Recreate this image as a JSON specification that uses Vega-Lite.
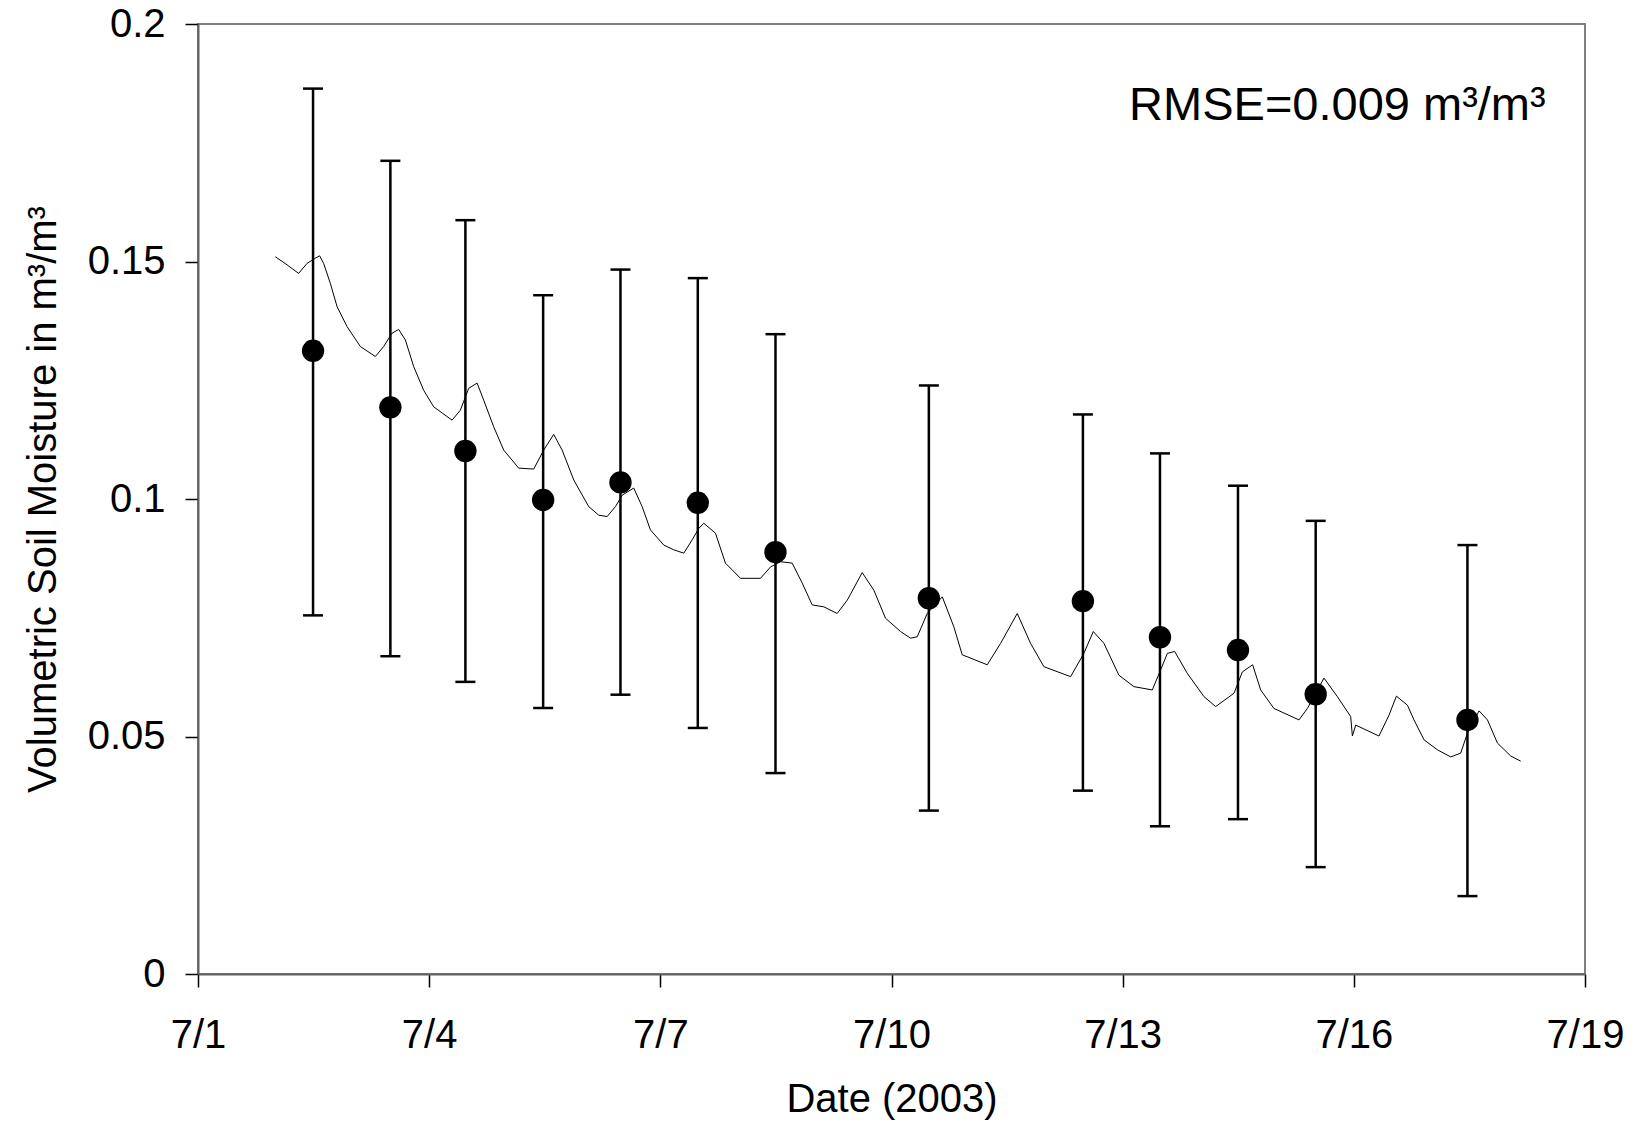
{
  "$schema": "https://vega.github.io/schema/vega-lite/v6.json",
  "width": 1387,
  "height": 950,
  "autosize": "none",
  "padding": {"left": 198, "top": 24, "right": 53, "bottom": 150},
  "background": "white",
  "config": {
    "font": "Liberation Sans",
    "view": {"stroke": "#808080", "strokeWidth": 2},
    "axis": {
      "grid": false,
      "labelFont": "Liberation Sans",
      "labelFontSize": 40,
      "labelColor": "#000000",
      "titleFont": "Liberation Sans",
      "titleFontSize": 40,
      "titleFontWeight": "normal",
      "titleColor": "#000000",
      "tickColor": "#000000",
      "tickSize": 13,
      "tickWidth": 1.5,
      "domainColor": "#606060",
      "domainWidth": 2,
      "labelFlush": false,
      "labelOverlap": false
    },
    "axisX": {"labelPadding": 28, "titlePadding": 24},
    "axisY": {"labelPadding": 20, "titlePadding": 24}
  },
  "datasets": {
    "series": [
      {"t": "2003-07-02T00:05", "v": 0.1510},
      {"t": "2003-07-02T03:44", "v": 0.1493},
      {"t": "2003-07-02T07:20", "v": 0.1475},
      {"t": "2003-07-02T09:58", "v": 0.1496},
      {"t": "2003-07-02T12:33", "v": 0.1507},
      {"t": "2003-07-02T13:53", "v": 0.1512},
      {"t": "2003-07-02T15:08", "v": 0.1496},
      {"t": "2003-07-02T17:13", "v": 0.1454},
      {"t": "2003-07-02T19:19", "v": 0.1405},
      {"t": "2003-07-02T22:25", "v": 0.1363},
      {"t": "2003-07-03T02:34", "v": 0.1321},
      {"t": "2003-07-03T07:14", "v": 0.1300},
      {"t": "2003-07-03T09:50", "v": 0.1321},
      {"t": "2003-07-03T12:26", "v": 0.1349},
      {"t": "2003-07-03T14:30", "v": 0.1357},
      {"t": "2003-07-03T16:35", "v": 0.1335},
      {"t": "2003-07-03T19:10", "v": 0.1279},
      {"t": "2003-07-03T22:17", "v": 0.1229},
      {"t": "2003-07-04T01:25", "v": 0.1194},
      {"t": "2003-07-04T07:08", "v": 0.1166},
      {"t": "2003-07-04T09:43", "v": 0.1187},
      {"t": "2003-07-04T12:19", "v": 0.1233},
      {"t": "2003-07-04T14:56", "v": 0.1244},
      {"t": "2003-07-04T16:59", "v": 0.1208},
      {"t": "2003-07-04T20:06", "v": 0.1152},
      {"t": "2003-07-04T23:13", "v": 0.1103},
      {"t": "2003-07-05T03:53", "v": 0.1065},
      {"t": "2003-07-05T08:34", "v": 0.1063},
      {"t": "2003-07-05T11:41", "v": 0.1103},
      {"t": "2003-07-05T14:47", "v": 0.1136},
      {"t": "2003-07-05T17:25", "v": 0.1103},
      {"t": "2003-07-05T21:02", "v": 0.1040},
      {"t": "2003-07-06T01:42", "v": 0.0984},
      {"t": "2003-07-06T04:49", "v": 0.0966},
      {"t": "2003-07-06T07:26", "v": 0.0963},
      {"t": "2003-07-06T10:01", "v": 0.0984},
      {"t": "2003-07-06T12:07", "v": 0.1008},
      {"t": "2003-07-06T15:43", "v": 0.1023},
      {"t": "2003-07-06T18:20", "v": 0.0984},
      {"t": "2003-07-06T20:55", "v": 0.0935},
      {"t": "2003-07-07T01:04", "v": 0.0903},
      {"t": "2003-07-07T04:11", "v": 0.0893},
      {"t": "2003-07-07T07:18", "v": 0.0886},
      {"t": "2003-07-07T09:55", "v": 0.0914},
      {"t": "2003-07-07T11:58", "v": 0.0938},
      {"t": "2003-07-07T13:32", "v": 0.0949},
      {"t": "2003-07-07T17:10", "v": 0.0928},
      {"t": "2003-07-07T20:17", "v": 0.0865},
      {"t": "2003-07-08T00:58", "v": 0.0833},
      {"t": "2003-07-08T07:11", "v": 0.0833},
      {"t": "2003-07-08T10:19", "v": 0.0857},
      {"t": "2003-07-08T13:26", "v": 0.0868},
      {"t": "2003-07-08T17:04", "v": 0.0865},
      {"t": "2003-07-08T20:11", "v": 0.0823},
      {"t": "2003-07-08T23:18", "v": 0.0777},
      {"t": "2003-07-09T02:55", "v": 0.0773},
      {"t": "2003-07-09T07:05", "v": 0.0759},
      {"t": "2003-07-09T10:13", "v": 0.0787},
      {"t": "2003-07-09T14:53", "v": 0.0845},
      {"t": "2003-07-09T18:30", "v": 0.0808},
      {"t": "2003-07-09T22:08", "v": 0.0749},
      {"t": "2003-07-10T02:49", "v": 0.0721},
      {"t": "2003-07-10T05:56", "v": 0.0707},
      {"t": "2003-07-10T08:01", "v": 0.0710},
      {"t": "2003-07-10T11:08", "v": 0.0759},
      {"t": "2003-07-10T15:49", "v": 0.0794},
      {"t": "2003-07-10T19:25", "v": 0.0731},
      {"t": "2003-07-10T22:02", "v": 0.0672},
      {"t": "2003-07-11T05:49", "v": 0.0651},
      {"t": "2003-07-11T09:58", "v": 0.0696},
      {"t": "2003-07-11T15:10", "v": 0.0759},
      {"t": "2003-07-11T19:19", "v": 0.0696},
      {"t": "2003-07-11T23:28", "v": 0.0647},
      {"t": "2003-07-12T07:47", "v": 0.0626},
      {"t": "2003-07-12T11:55", "v": 0.0675},
      {"t": "2003-07-12T14:51", "v": 0.0721},
      {"t": "2003-07-12T18:10", "v": 0.0696},
      {"t": "2003-07-12T22:50", "v": 0.0629},
      {"t": "2003-07-13T03:30", "v": 0.0605},
      {"t": "2003-07-13T09:14", "v": 0.0598},
      {"t": "2003-07-13T11:49", "v": 0.0640},
      {"t": "2003-07-13T13:55", "v": 0.0675},
      {"t": "2003-07-13T16:11", "v": 0.0679},
      {"t": "2003-07-13T20:08", "v": 0.0633},
      {"t": "2003-07-14T01:19", "v": 0.0584},
      {"t": "2003-07-14T04:58", "v": 0.0563},
      {"t": "2003-07-14T10:40", "v": 0.0591},
      {"t": "2003-07-14T13:17", "v": 0.0636},
      {"t": "2003-07-14T16:29", "v": 0.0651},
      {"t": "2003-07-14T18:59", "v": 0.0598},
      {"t": "2003-07-14T23:07", "v": 0.0559},
      {"t": "2003-07-15T06:55", "v": 0.0535},
      {"t": "2003-07-15T09:32", "v": 0.0559},
      {"t": "2003-07-15T14:42", "v": 0.0623},
      {"t": "2003-07-15T18:52", "v": 0.0584},
      {"t": "2003-07-15T23:01", "v": 0.0542},
      {"t": "2003-07-15T23:33", "v": 0.0501},
      {"t": "2003-07-16T00:35", "v": 0.0524},
      {"t": "2003-07-16T07:50", "v": 0.0501},
      {"t": "2003-07-16T10:57", "v": 0.0545},
      {"t": "2003-07-16T13:16", "v": 0.0585},
      {"t": "2003-07-16T16:41", "v": 0.0566},
      {"t": "2003-07-16T18:44", "v": 0.0535},
      {"t": "2003-07-16T21:52", "v": 0.0493},
      {"t": "2003-07-17T02:02", "v": 0.0472},
      {"t": "2003-07-17T06:11", "v": 0.0457},
      {"t": "2003-07-17T09:17", "v": 0.0465},
      {"t": "2003-07-17T11:23", "v": 0.0507},
      {"t": "2003-07-17T15:00", "v": 0.0554},
      {"t": "2003-07-17T17:37", "v": 0.0535},
      {"t": "2003-07-17T20:44", "v": 0.0486},
      {"t": "2003-07-18T00:52", "v": 0.0459},
      {"t": "2003-07-18T03:59", "v": 0.0448}
    ],
    "obs": [
      {"t": "2003-07-02T11:50", "v": 0.1312, "lo": 0.0755, "hi": 0.1864},
      {"t": "2003-07-03T11:55", "v": 0.1193, "lo": 0.0669, "hi": 0.1712},
      {"t": "2003-07-04T11:17", "v": 0.1101, "lo": 0.0615, "hi": 0.1587},
      {"t": "2003-07-05T11:30", "v": 0.0998, "lo": 0.0560, "hi": 0.1429},
      {"t": "2003-07-06T11:35", "v": 0.1035, "lo": 0.0588, "hi": 0.1483},
      {"t": "2003-07-07T11:40", "v": 0.0992, "lo": 0.0518, "hi": 0.1465},
      {"t": "2003-07-08T11:52", "v": 0.0888, "lo": 0.0423, "hi": 0.1347},
      {"t": "2003-07-10T11:38", "v": 0.0791, "lo": 0.0344, "hi": 0.1239},
      {"t": "2003-07-12T11:37", "v": 0.0785, "lo": 0.0386, "hi": 0.1178},
      {"t": "2003-07-13T11:37", "v": 0.0709, "lo": 0.0311, "hi": 0.1096},
      {"t": "2003-07-14T11:55", "v": 0.0682, "lo": 0.0326, "hi": 0.1028},
      {"t": "2003-07-15T12:07", "v": 0.0589, "lo": 0.0225, "hi": 0.0954},
      {"t": "2003-07-17T11:23", "v": 0.0535, "lo": 0.0164, "hi": 0.0903}
    ],
    "note": [
      {"t": "2003-07-18T11:45", "v": 0.1798, "label": "RMSE=0.009 m³/m³"}
    ]
  },
  "encoding": {
    "x": {
      "field": "t",
      "type": "temporal",
      "title": "Date (2003)",
      "scale": {
        "domain": [
          {"year": 2003, "month": 7, "date": 1},
          {"year": 2003, "month": 7, "date": 19}
        ],
        "nice": false
      },
      "axis": {"format": "%-m/%-d", "tickCount": {"interval": "day", "step": 3}}
    }
  },
  "layer": [
    {
      "data": {"name": "series"},
      "mark": {"type": "line", "color": "#000000", "strokeWidth": 1},
      "encoding": {
        "y": {
          "field": "v",
          "type": "quantitative",
          "title": "Volumetric Soil Moisture in m³/m³",
          "scale": {"domain": [0, 0.2], "nice": false, "zero": true},
          "axis": {"values": [0, 0.05, 0.1, 0.15, 0.2], "format": "~g"}
        }
      }
    },
    {
      "data": {"name": "obs"},
      "mark": {"type": "rule", "color": "#000000", "strokeWidth": 2.5},
      "encoding": {
        "y": {"field": "lo", "type": "quantitative", "title": "Volumetric Soil Moisture in m³/m³"},
        "y2": {"field": "hi"}
      }
    },
    {
      "data": {"name": "obs"},
      "mark": {"type": "tick", "orient": "horizontal", "color": "#000000", "size": 20, "thickness": 2.5, "opacity": 1},
      "encoding": {
        "y": {"field": "lo", "type": "quantitative", "title": "Volumetric Soil Moisture in m³/m³"}
      }
    },
    {
      "data": {"name": "obs"},
      "mark": {"type": "tick", "orient": "horizontal", "color": "#000000", "size": 20, "thickness": 2.5, "opacity": 1},
      "encoding": {
        "y": {"field": "hi", "type": "quantitative", "title": "Volumetric Soil Moisture in m³/m³"}
      }
    },
    {
      "data": {"name": "obs"},
      "mark": {"type": "circle", "color": "#000000", "size": 500, "opacity": 1},
      "encoding": {
        "y": {"field": "v", "type": "quantitative", "title": "Volumetric Soil Moisture in m³/m³"}
      }
    },
    {
      "data": {"name": "note"},
      "mark": {"type": "text", "align": "right", "baseline": "alphabetic", "fontSize": 47, "font": "Liberation Sans", "color": "#000000"},
      "encoding": {
        "y": {"field": "v", "type": "quantitative", "title": "Volumetric Soil Moisture in m³/m³"},
        "text": {"field": "label"}
      }
    }
  ]
}
